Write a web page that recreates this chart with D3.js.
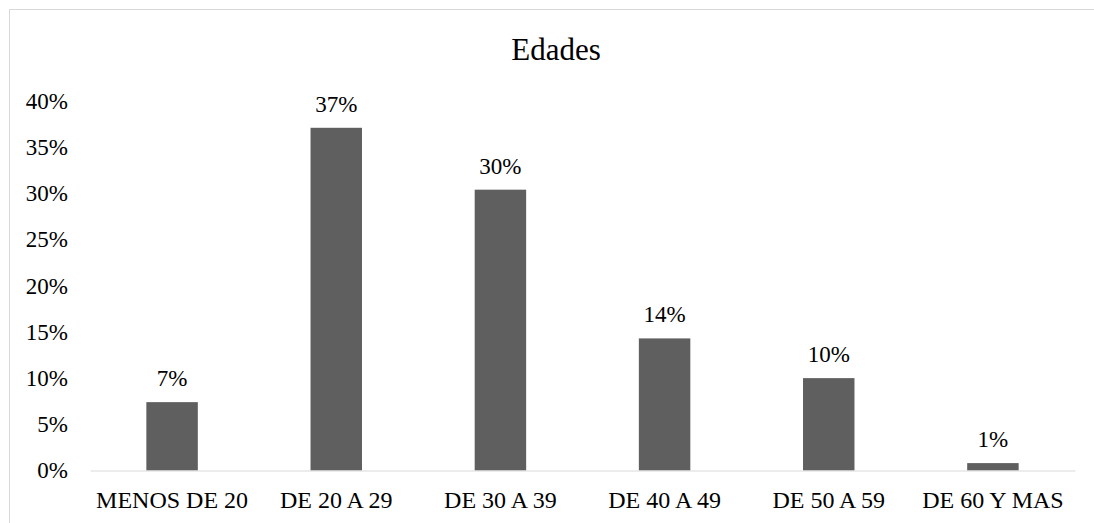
<!DOCTYPE html>
<html>
<head>
<meta charset="utf-8">
<script src="https://cdn.jsdelivr.net/npm/d3@7"></script>
<style>
  html, body { margin: 0; padding: 0; background: #fff; }
  svg { display: block; }
</style>
</head>
<body>
<svg id="chart" width="1094" height="523"></svg>
<script>
const categories = ["MENOS DE 20", "DE 20 A 29", "DE 30 A 39", "DE 40 A 49", "DE 50 A 59", "DE 60 Y MAS"];
const values = [0.074, 0.371, 0.304, 0.143, 0.100, 0.008];
const yTicks = [0, 0.05, 0.10, 0.15, 0.20, 0.25, 0.30, 0.35, 0.40];
const title = "Edades";

const FONT = "'Liberation Serif'";
const svg = d3.select("#chart");
const W = 1094, H = 523;
const plotLeft = 90, plotRight = 1075, plotBottom = 470.5, plotTop = 101;

svg.append("rect")
  .attr("x", 9.5).attr("y", 9.5)
  .attr("width", W + 20).attr("height", H + 20)
  .attr("fill", "#fff").attr("stroke", "#d9d9d9").attr("stroke-width", 1);

const x = d3.scaleBand().domain(categories).range([plotLeft, plotRight]).padding(0);
const y = d3.scaleLinear().domain([0, 0.4]).range([plotBottom, plotTop]);
const barW = x.bandwidth() / (1 + 2.19);

// title
svg.append("text")
  .attr("x", 556).attr("y", 60)
  .attr("text-anchor", "middle")
  .style("font-family", FONT)
  .style("font-size", "31px")
  .style("fill", "#000")
  .text(title);

// y axis labels
const yAxis = d3.axisLeft(y).tickValues(yTicks).tickFormat(d3.format(".0%")).tickSize(0).tickPadding(0);
const gy = svg.append("g").attr("transform", `translate(68,0)`).call(yAxis);
gy.attr("font-family", null).attr("font-size", null);
gy.select(".domain").remove();
gy.selectAll("text")
  .style("font-family", FONT)
  .style("font-size", "23px")
  .style("fill", "#000");

// bars
svg.append("g").selectAll("rect")
  .data(values)
  .join("rect")
  .attr("x", (d, i) => x(categories[i]) + (x.bandwidth() - barW) / 2)
  .attr("y", d => y(d))
  .attr("width", barW)
  .attr("height", d => y(0) - y(d))
  .attr("fill", "#5f5f5f");

// x axis
const xAxis = d3.axisBottom(x).tickSize(0).tickPadding(0);
const gx = svg.append("g").attr("transform", `translate(0,${plotBottom})`).call(xAxis);
gx.attr("font-family", null).attr("font-size", null);
gx.select(".domain").attr("stroke", "#d9d9d9").attr("stroke-width", 1.2);
gx.selectAll("text")
  .attr("dy", null)
  .attr("y", 37.5)
  .style("font-family", FONT)
  .style("font-size", "24px")
  .style("fill", "#000");

// data labels
svg.append("g").selectAll("text")
  .data(values)
  .join("text")
  .attr("x", (d, i) => x(categories[i]) + x.bandwidth() / 2)
  .attr("y", d => y(d) - 16)
  .attr("text-anchor", "middle")
  .style("font-family", FONT)
  .style("font-size", "23px")
  .style("fill", "#000")
  .text(d => d3.format(".0%")(d));
</script>
</body>
</html>
